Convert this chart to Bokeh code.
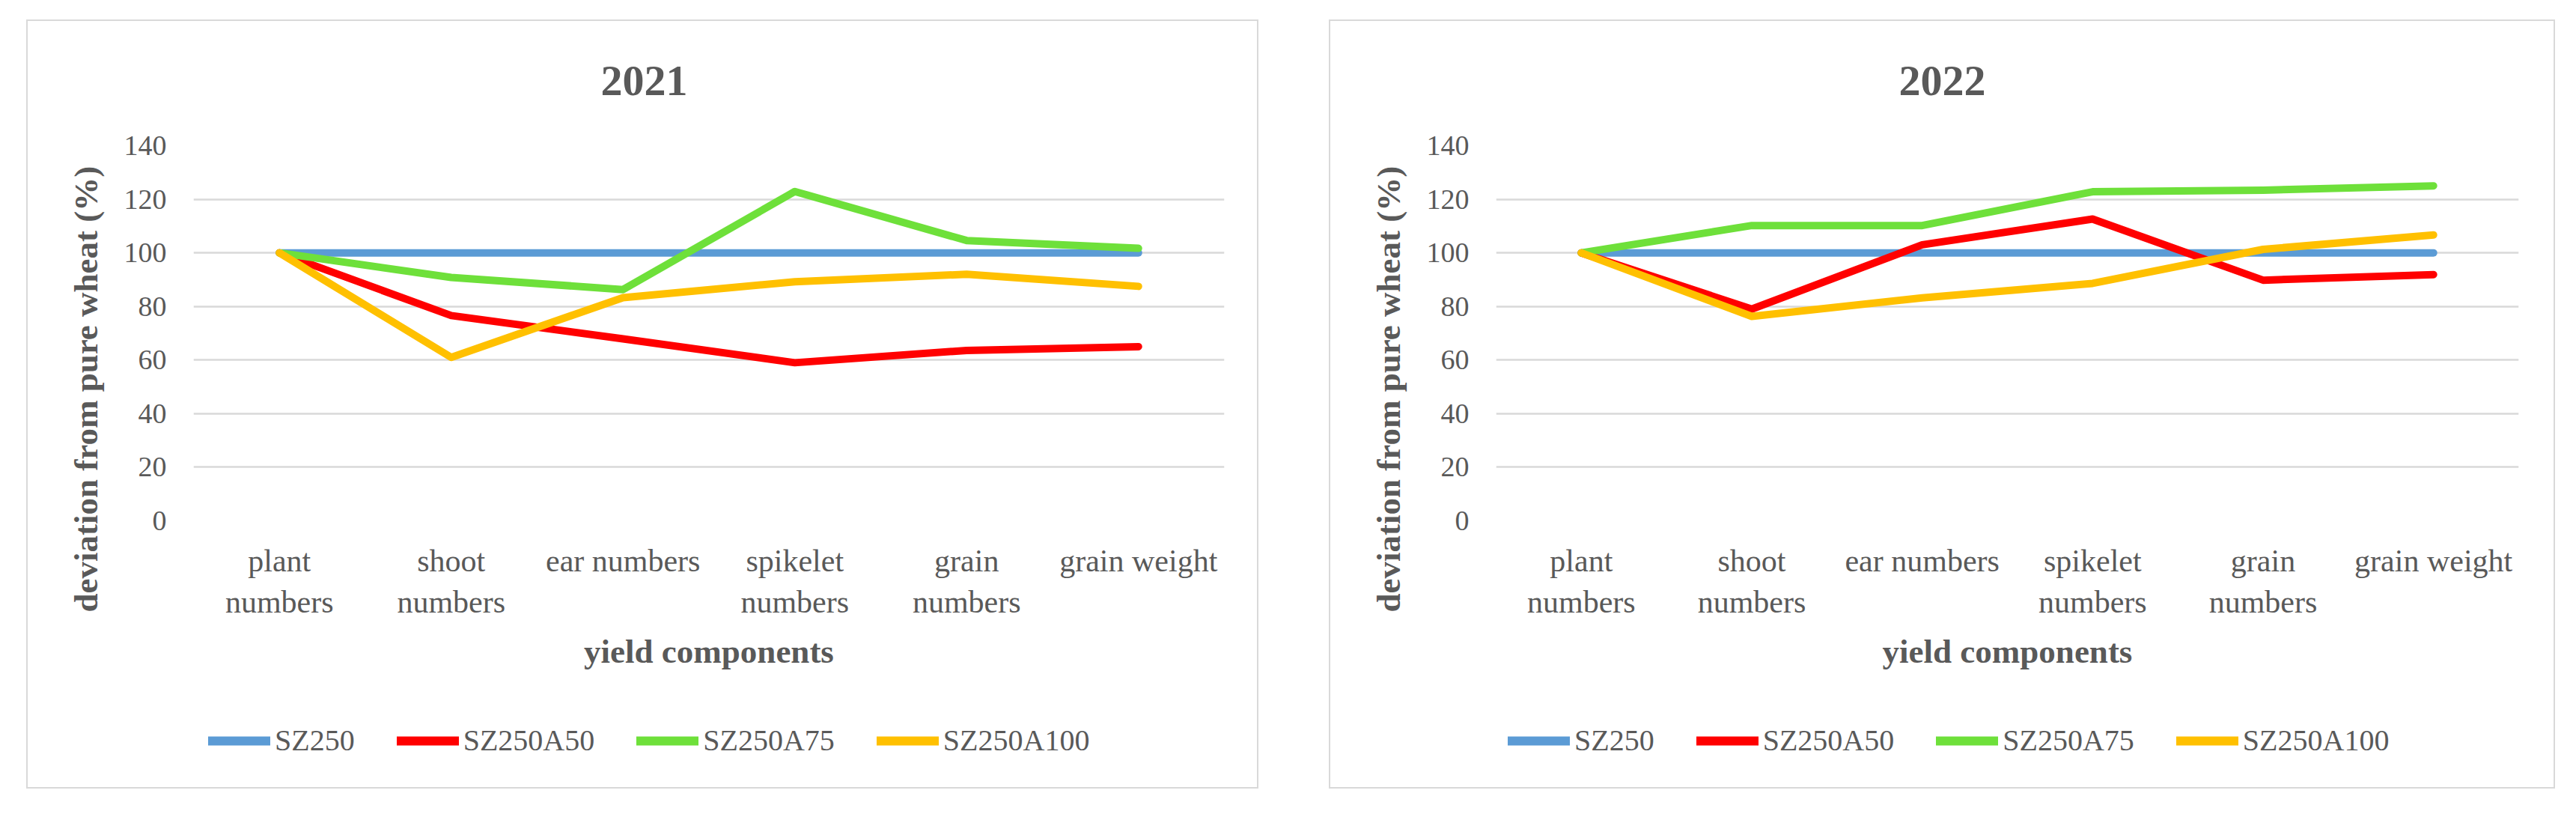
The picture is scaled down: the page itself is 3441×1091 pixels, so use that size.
from bokeh.embed import file_html
from bokeh.layouts import column, row
from bokeh.models import FactorRange, Legend, LegendItem, Range1d, Title
from bokeh.plotting import figure
from bokeh.resources import INLINE

# yield components on the x axis (line breaks as in the original chart)
components = ["plant\nnumbers", "shoot\nnumbers", "ear numbers",
              "spikelet\nnumbers", "grain\nnumbers", "grain weight"]
y_ticks = [0, 20, 40, 60, 80, 100, 120, 140]

series_names = ["SZ250", "SZ250A50", "SZ250A75", "SZ250A100"]
series_colors = ["#5b9bd5", "#ff0000", "#6ee03a", "#ffc000"]

# 2021, deviation from pure wheat (%)
sz250_2021 = [100, 100, 100, 100, 100, 100]
sz250a50_2021 = [100, 76.6, 67.9, 59.0, 63.6, 65.0]
sz250a75_2021 = [100, 90.8, 86.3, 122.9, 104.6, 101.7]
sz250a100_2021 = [100, 61.0, 83.3, 89.2, 92.0, 87.5]

# 2022
sz250_2022 = [100, 100, 100, 100, 100, 100]
sz250a50_2022 = [100, 79.0, 103.0, 112.6, 89.8, 91.9]
sz250a75_2022 = [100, 110.2, 110.2, 122.8, 123.4, 125.0]
sz250a100_2022 = [100, 76.3, 83.2, 88.6, 101.3, 106.7]

FONT = "Liberation Serif"
TEXT = "#595959"


def make_panel(title, series, width, border_right, title_offset, legend_x):
    p = figure(x_range=FactorRange(*components), y_range=Range1d(0, 140),
               width=width, height=891, output_backend="svg", toolbar_location=None,
               min_border_left=221, min_border_right=border_right,
               min_border_top=166, min_border_bottom=224)
    p.outline_line_color = None
    p.background_fill_color = "white"
    p.border_fill_color = "white"

    p.title.text = title
    p.title.align = "left"
    p.title.offset = title_offset
    p.title.text_font = FONT
    p.title.text_font_size = "58px"
    p.title.text_font_style = "bold"
    p.title.text_color = TEXT
    # padding is (left, right, top, bottom): lifts the title off the plot area
    p.title.padding = (0, 0, 0, 68)
    p.title.standoff = 0

    # y axis title, shifted down along the axis like in the original
    ytitle = Title(text="deviation from pure wheat (%)", align="left", offset=-122,
                   standoff=46, text_font=FONT, text_font_size="45px",
                   text_font_style="bold", text_color=TEXT)
    p.add_layout(ytitle, "left")

    p.xgrid.visible = False
    p.ygrid.grid_line_color = "#d9d9d9"
    p.ygrid.grid_line_width = 2.5

    for ax in (p.xaxis, p.yaxis):
        ax.axis_line_color = None
        ax.major_tick_line_color = None
        ax.minor_tick_line_color = None
        ax.major_tick_out = 0
        ax.major_tick_in = 0
        ax.major_label_text_font = FONT
        ax.major_label_text_color = TEXT
        ax.axis_label_text_font = FONT
        ax.axis_label_text_color = TEXT
        ax.axis_label_text_font_style = "bold"

    p.yaxis.ticker = y_ticks
    p.yaxis.major_label_text_font_size = "38px"
    p.yaxis.major_label_standoff = 36

    p.xaxis.major_label_text_font_size = "42px"
    p.xaxis.major_label_standoff = 30
    p.xaxis.axis_label = "yield components"
    p.xaxis.axis_label_text_font_size = "45px"
    p.xaxis.axis_label_standoff = 15

    for color, vals in zip(series_colors, series):
        p.line(components, vals, line_width=10, color=color,
               line_cap="round", line_join="round")

    # legend strip under the chart; its lines sit outside the visible y range
    q = figure(width=width, height=132, x_range=FactorRange(*components),
               y_range=Range1d(1000, 1001), x_axis_type=None, y_axis_type=None,
               output_backend="svg", toolbar_location=None, min_border=0)
    q.outline_line_color = None
    q.grid.visible = False
    items = []
    for name, color, vals in zip(series_names, series_colors, series):
        r = q.line(components, vals, line_width=12, color=color, line_cap="round")
        items.append(LegendItem(label=name, renderers=[r]))
    legend = Legend(items=items, orientation="horizontal", location=(legend_x, 39),
                    label_text_font=FONT, label_text_font_size="40px",
                    label_text_color=TEXT, glyph_width=83, glyph_height=46,
                    label_standoff=6, spacing=56, padding=10, margin=0,
                    border_line_color=None, background_fill_alpha=0)
    q.add_layout(legend)

    panel = column(p, q, spacing=0)
    panel.styles = {"border": "2px solid #d9d9d9"}
    return panel


left = make_panel("2021", [sz250_2021, sz250a50_2021, sz250a75_2021, sz250a100_2021],
                  1642, 44, 544, 20)
right = make_panel("2022", [sz250_2022, sz250a50_2022, sz250a75_2022, sz250a100_2022],
                   1634, 47, 538, 16)
left.margin = (26, 0, 0, 35)
right.margin = (26, 0, 0, 94)

page = row(left, right)
open("out.html", "w").write(file_html(page, INLINE))
